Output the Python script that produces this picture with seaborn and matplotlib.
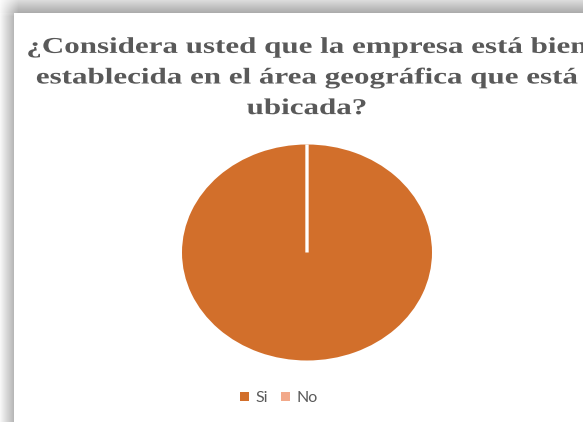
import numpy as np
import matplotlib
matplotlib.use("Agg")
import matplotlib.pyplot as plt
from matplotlib.patches import Patch
from matplotlib.patheffects import AbstractPathEffect
from matplotlib.transforms import Affine2D
import seaborn as sns

# Survey answers
categories = ["Si", "No"]
values = [100, 0]
title = "¿Considera usted que la empresa está bien\nestablecida en el área geográfica que está\nubicada?"

sns.set_theme(style="white")
colors = ["#D26F2B", "#F2A98A"]

W, H = 583, 422
fig = plt.figure(figsize=(W / 100, H / 100), dpi=100)
fig.patch.set_facecolor("white")


class Widen(AbstractPathEffect):
    """Draw glyphs stretched horizontally about a fixed x (pixels)."""

    def __init__(self, sx, cx):
        super().__init__()
        self.sx, self.cx = sx, cx

    def draw_path(self, renderer, gc, tpath, affine, rgbFace=None):
        stretch = Affine2D().translate(-self.cx, 0).scale(self.sx, 1).translate(self.cx, 0)
        renderer.draw_path(gc, tpath, affine + stretch, rgbFace)


# Drop shadow along the top and left edges of the panel
bg = fig.add_axes([0, 0, 1, 1])
xs = np.arange(W)[None, :].astype(float)
ys = np.arange(H)[:, None].astype(float)
px, py = 14, 13
top_val = 0.86 - 0.20 * np.clip(ys / py, 0, 1)
left_val = 0.97 - 0.27 * np.clip(xs / px, 0, 1)
fx = np.clip((xs + 2) / 20, 0, 1)
fy = np.clip((ys + 2) / 18, 0, 1)
top_shade = np.where(ys < py, 1 - (1 - top_val) * fx, 1.0)
left_shade = np.where(xs < px, 1 - (1 - left_val) * fy, 1.0)
shade = np.minimum(np.broadcast_to(top_shade, (H, W)),
                   np.broadcast_to(left_shade, (H, W)))
shade = np.where((xs >= px) & (ys >= py), 1.0, shade)
bg.imshow(np.dstack([shade] * 3), extent=[0, W, H, 0], aspect="auto",
          interpolation="bilinear")
bg.set_axis_off()

# Pie
cx, cy, rx, ry = 307, 252.5, 125, 108
ax = fig.add_axes([(cx - rx) / W, (H - cy - ry) / H, 2 * rx / W, 2 * ry / H])
wedges, _ = ax.pie(values, colors=colors, startangle=90, counterclock=False,
                   radius=1.0)
wedges[0].set_edgecolor("none")
wedges[1].set_edgecolor("white")
wedges[1].set_linewidth(2.4)
ax.set_aspect("auto")
ax.set_xlim(-1, 1)
ax.set_ylim(-1, 1)
ax.set_axis_off()

fig.text(cx / W, 1 - 78 / H, title, ha="center", va="center",
         family="Liberation Serif", fontweight="bold", fontsize=16.3,
         color="#595959", linespacing=1.6,
         path_effects=[Widen(1.37, cx)])

handles = [Patch(facecolor=c, edgecolor="none") for c in colors]
leg = fig.legend(handles, categories, loc="center", ncol=2,
                 bbox_to_anchor=(279 / W, 1 - 398 / H), frameon=False,
                 handlelength=0.55, handleheight=0.55, handletextpad=0.45,
                 columnspacing=0.8, prop={"family": "Lato", "size": 11.5})
for t in leg.get_texts():
    t.set_color("#595959")

fig.savefig("out.png", dpi=100)
